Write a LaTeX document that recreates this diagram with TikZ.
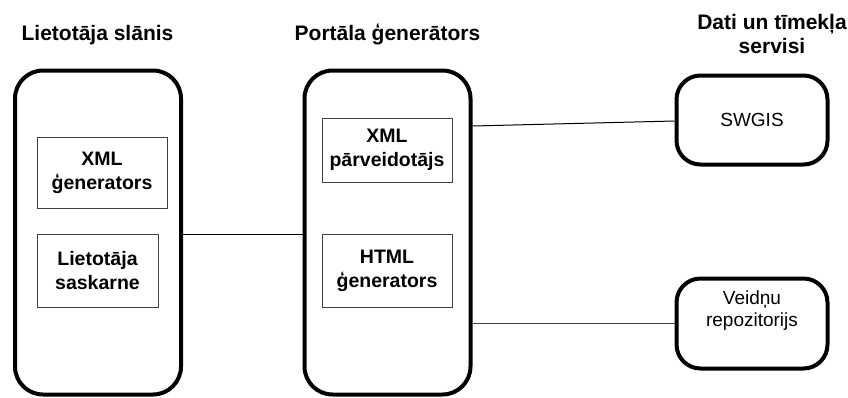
\documentclass[tikz,border=0pt]{standalone}
\usepackage{fontspec}
\setmainfont{Liberation Sans}
\begin{document}
\begin{tikzpicture}[x=1pt,y=-1pt,
  layer/.style={draw=black,line width=4pt,rounded corners=28pt,inner sep=0pt},
  service/.style={draw=black,line width=4pt,rounded corners=24pt,inner sep=0pt,
    font=\fontsize{19}{22}\selectfont,align=center},
  module/.style={draw=black!75,line width=0.9pt,inner sep=0pt,align=center,
    font=\fontsize{19.5}{24}\selectfont\bfseries},
  title/.style={font=\fontsize{21}{24}\selectfont\bfseries,align=center,inner sep=0pt},
  link/.style={draw=black,line width=1pt}]
\useasboundingbox (0,0) rectangle (848,397);

% layer titles (base anchor sits on the last line's baseline)
\node[title,anchor=base] (t1) at (97.5,40) {Lietotāja slānis};
\node[title,anchor=base] (t2) at (387.5,40) {Portāla ģenerātors};
\node[title,anchor=base] (t3) at (772,53) {Dati un tīmekļa\\servisi};

% the two layer containers
\node[layer,minimum width=166pt,minimum height=324pt] (user) at (98,232.5) {};
\node[layer,minimum width=166pt,minimum height=324pt] (portal) at (387.5,232.5) {};

% modules inside the user layer
\node[module,minimum width=130pt,minimum height=71pt] (xmlgen) at (102,172.5)
  {XML\\ģenerators};
\node[module,minimum width=121pt,minimum height=73pt] (ui) at (97.5,270.5)
  {Lietotāja\\saskarne};

% modules inside the portal generator
\node[module,minimum width=130pt,minimum height=64pt] (xmltr) at (387,150)
  {XML\\pārveidotājs};
\node[module,minimum width=130pt,minimum height=73pt] (htmlgen) at (387,270.5)
  {HTML\\ģenerators};

% data and web services
\node[service,minimum width=151pt,minimum height=89pt] (swgis) at (752,120) {SWGIS};
\node[service,minimum width=151pt,minimum height=90pt] (repo) at (752,323.5) {};
\node[font=\fontsize{19}{22}\selectfont,align=center,inner sep=0pt] (repotext)
  at (752,311) {Veidņu\\repozitorijs};

% connections
\coordinate (ua) at (181,234.3);
\draw[link] (user.east |- ua) -- (portal.west |- ua);
\coordinate (pa) at (470.5,126);
\draw[link] (portal.east |- pa) -- ([yshift=-1pt]swgis.west);
\draw[link,draw=black!75] (portal.east |- repo.west) -- (repo.west);
\end{tikzpicture}
\end{document}
